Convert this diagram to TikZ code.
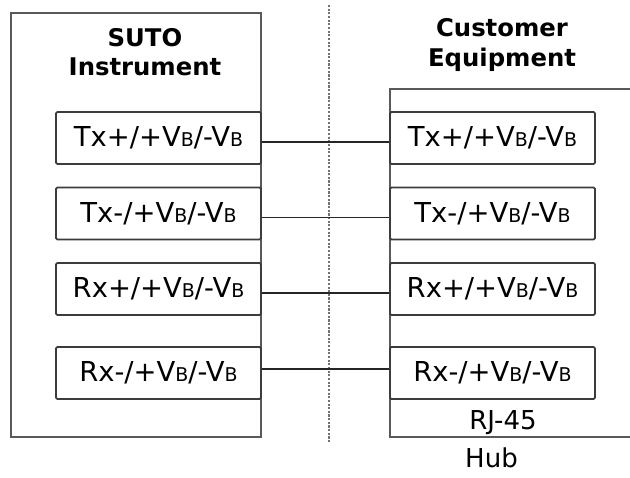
\documentclass[tikz,border=0pt]{standalone}
\usepackage{fontspec}
\setmainfont{DejaVu Sans}
\usetikzlibrary{positioning}
\newcommand{\VB}{V{\fontsize{13.5}{13.5}\selectfont B}}
\definecolor{WireGray}{RGB}{60,60,60}
\tikzset{
  pinbox/.style={draw=WireGray, line width=1.2pt, rounded corners=1pt,
    minimum width=5.125cm, minimum height=1.3cm, inner sep=0pt,
    font=\fontsize{19.5}{22}\selectfont},
  panel/.style={draw=WireGray!85, line width=1.2pt},
  wire/.style={draw=black!85, line width=1pt},
  headline/.style={align=center, font=\bfseries\fontsize{17.3}{21}\selectfont},
  plainlabel/.style={font=\fontsize{18.5}{20}\selectfont}
}
\begin{document}
\begin{tikzpicture}[x=0.025cm, y=-0.025cm]
  \useasboundingbox (0,0) rectangle (630,478);
  % instrument side
  \draw[panel] (11,13) rectangle (261,437);
  \node[headline] (suto) at (145,52) {SUTO\\Instrument};
  \node[pinbox] (ltxp) at (158.5,138) {Tx+/+\VB/-\VB};
  \node[pinbox] (ltxm) at (158.5,213.5) {Tx-/+\VB/-\VB};
  \node[pinbox] (lrxp) at (158.5,289) {Rx+/+\VB/-\VB};
  \node[pinbox] (lrxm) at (158.5,373) {Rx-/+\VB/-\VB};
  % customer side
  \draw[panel] (630,89) -- (390,89) -- (390,437) -- (630,437);
  \node[headline] (cust) at (502,45) {Customer\\Equipment};
  \node[pinbox] (rtxp) at (492.5,138) {Tx+/+\VB/-\VB};
  \node[pinbox] (rtxm) at (492.5,213.5) {Tx-/+\VB/-\VB};
  \node[pinbox] (rrxp) at (492.5,289) {Rx+/+\VB/-\VB};
  \node[pinbox] (rrxm) at (492.5,373) {Rx-/+\VB/-\VB};
  \node[plainlabel] (rj) at (503,423) {RJ-45};
  \node[plainlabel] (hub) at (491.5,458) {Hub};
  % divider
  \coordinate (top) at (329,5);
  \coordinate (bot) at (329,442);
  \draw[black!55, line width=1.5pt, dash pattern=on 1.5pt off 1.1pt] (top) -- (bot);
  % wires
  \foreach \a/\b/\d in {ltxp/rtxp/-4, ltxm/rtxm/-4, lrxp/rrxp/-4, lrxm/rrxm/4}
    \draw[wire] ([yshift=\d*0.025cm]\a.east) -- ([yshift=\d*0.025cm]\b.west);
\end{tikzpicture}
\end{document}
